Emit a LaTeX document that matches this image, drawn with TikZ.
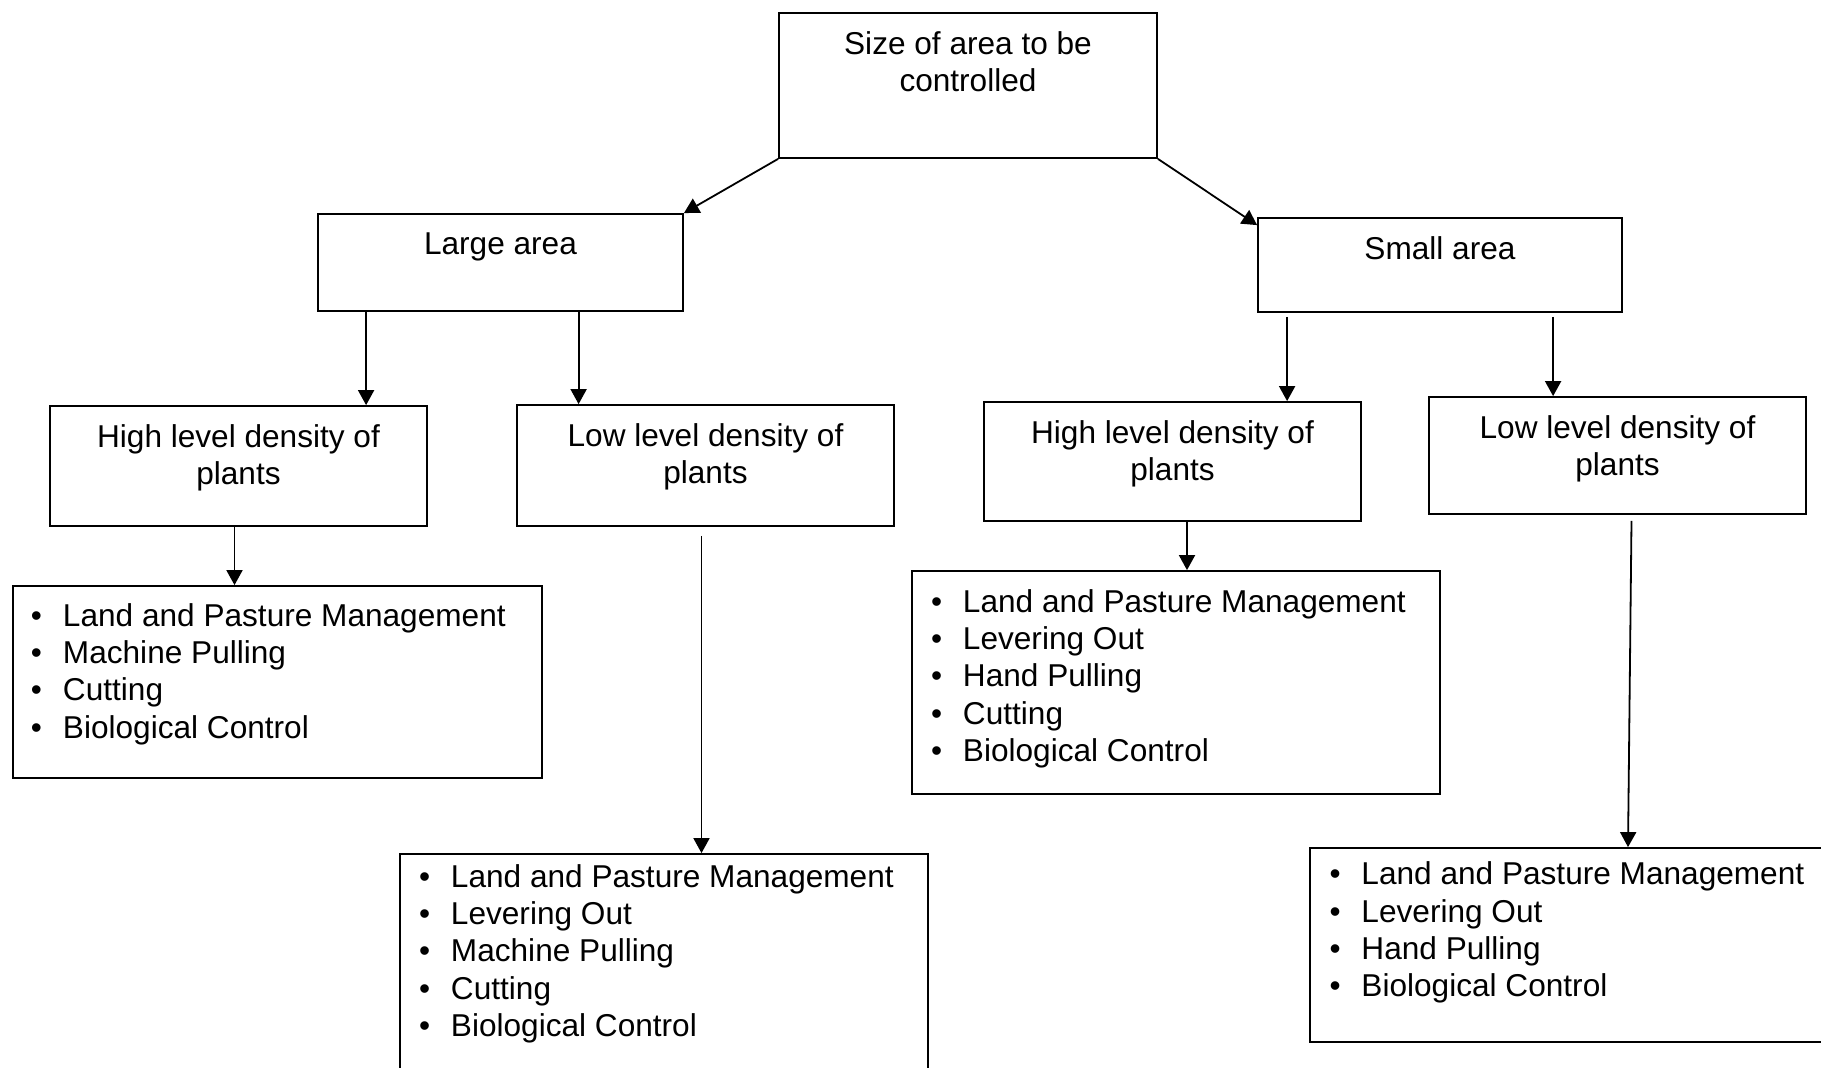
\documentclass[tikz,border=0pt]{standalone}
\usepackage{fontspec}
\setmainfont{Liberation Sans}
\usepackage{tikz}
\usetikzlibrary{arrows.meta,positioning}

\tikzset{
  box/.style={draw,line width=0.9pt,rectangle,inner sep=0pt},
  boxtext/.style={inner sep=0pt,align=center,font=\fontsize{15.8}{18.3}\selectfont},
  listtext/.style={inner sep=0pt,align=left,font=\fontsize{15.8}{18.6}\selectfont},
  arr/.style={line width=0.9pt,-{Triangle[width=8pt,length=7.5pt]}}
}
\newcommand{\itm}{\makebox[16pt][l]{•}}

\begin{document}
\begin{tikzpicture}[x=0.5pt,y=-0.5pt]
\useasboundingbox (0,0) rectangle (1821,1067);
% boxes
\node[box,minimum width=189pt,minimum height=72.5pt] (root) at (968,85.5) {};
\node[box,minimum width=182.5pt,minimum height=48.5pt] (large) at (500.5,262.5) {};
\node[box,minimum width=182pt,minimum height=47pt] (small) at (1440,265) {};
\node[box,minimum width=188.5pt,minimum height=60pt] (highL) at (238.5,466) {};
\node[box,minimum width=188.5pt,minimum height=60.5pt] (lowL) at (705.5,465.5) {};
\node[box,minimum width=188.5pt,minimum height=59.5pt] (highR) at (1172.5,461.5) {};
\node[box,minimum width=188.5pt,minimum height=58.5pt] (lowR) at (1617.5,455.5) {};
\node[box,minimum width=264.5pt,minimum height=96pt] (list1) at (277.5,682) {};
\node[box,minimum width=264pt,minimum height=111.5pt] (list2) at (1176,682.5) {};
\node[box,minimum width=264pt,minimum height=118pt] (list3) at (664,972) {};
\node[box,minimum width=257pt,minimum height=97pt] (list4) at (1567,945) {};
% texts
\node[boxtext,below=9.5pt of root.north] (rootT) {Size of area to be\\controlled};
\node[boxtext,below=9.5pt of large.north] (largeT) {Large area};
\node[boxtext,below=9.5pt of small.north] (smallT) {Small area};
\node[boxtext,below=9.5pt of highL.north] (highLT) {High level density of\\plants};
\node[boxtext,below=9.5pt of lowL.north] (lowLT) {Low level density of\\plants};
\node[boxtext,below=9.5pt of highR.north] (highRT) {High level density of\\plants};
\node[boxtext,below=9.5pt of lowR.north] (lowRT) {Low level density of\\plants};
\node[listtext,below right=9pt and 9.25pt of list1.north west] (list1T)
  {\itm Land and Pasture Management\\\itm Machine Pulling\\\itm Cutting\\\itm Biological Control};
\node[listtext,below right=9.5pt and 9.75pt of list2.north west] (list2T)
  {\itm Land and Pasture Management\\\itm Levering Out\\\itm Hand Pulling\\\itm Cutting\\\itm Biological Control};
\node[listtext,below right=5.5pt and 9.75pt of list3.north west] (list3T)
  {\itm Land and Pasture Management\\\itm Levering Out\\\itm Machine Pulling\\\itm Cutting\\\itm Biological Control};
\node[listtext,below right=7.25pt and 10pt of list4.north west] (list4T)
  {\itm Land and Pasture Management\\\itm Levering Out\\\itm Hand Pulling\\\itm Biological Control};
% arrows
\draw[arr] (root.south west) -- (large.north east);
\draw[arr] (root.south east) -- ([yshift=-4pt]small.north west);
\draw[arr] ([xshift=24.5pt]large.south west) -- ([xshift=24.5pt]large.south west |- highL.north);
\draw[arr] ([xshift=130.75pt]large.south west) -- ([xshift=130.75pt]large.south west |- lowL.north);
\draw[arr] ([xshift=15pt,yshift=-2pt]small.south west) -- ([xshift=15pt]small.south west |- highR.north);
\draw[arr] ([xshift=148pt,yshift=-2pt]small.south west) -- ([xshift=148pt]small.south west |- lowR.north);
\draw[arr] ([xshift=-2pt]highL.south) -- ([xshift=-2pt]highL.south |- list1.north);
\draw[arr] ([xshift=-2pt,yshift=-4.5pt]lowL.south) -- ([xshift=-2pt]lowL.south |- list3.north);
\draw[arr] ([xshift=7.25pt]highR.south) -- ([xshift=7.25pt]highR.south |- list2.north);
\draw[arr] ([xshift=7pt,yshift=-3pt]lowR.south) -- ([xshift=30.5pt]list4.north);
\end{tikzpicture}
\end{document}
